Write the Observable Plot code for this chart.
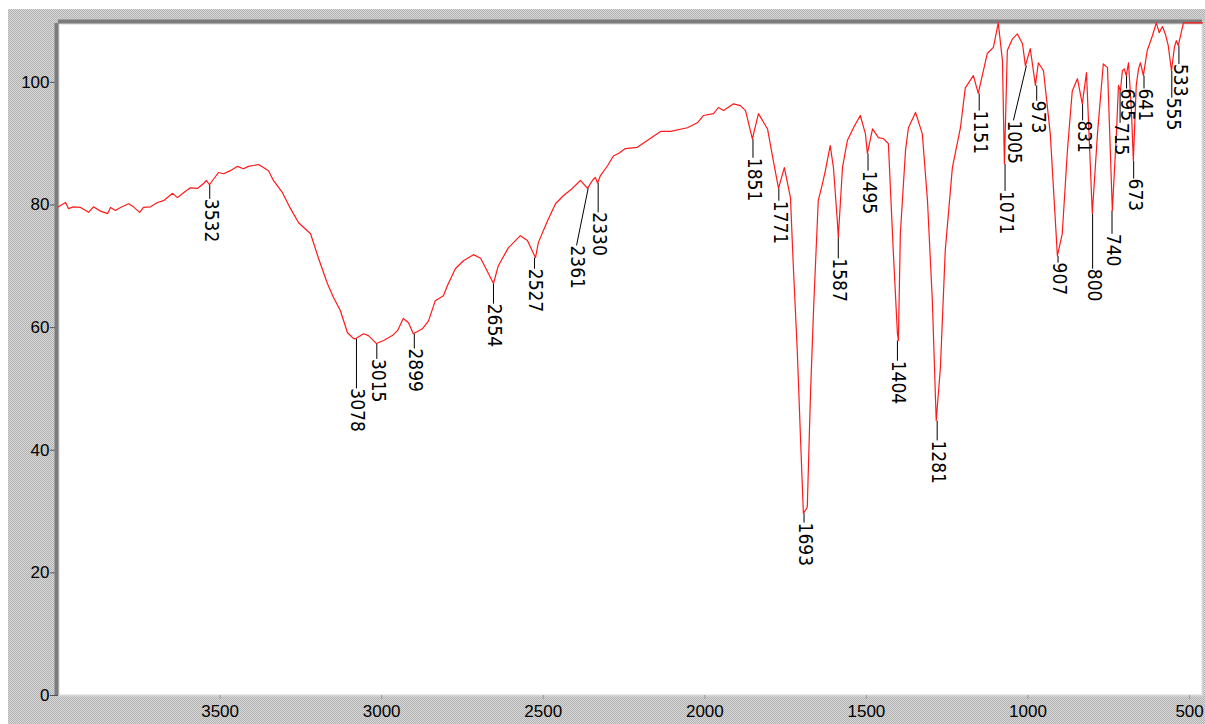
<!DOCTYPE html>
<html><head><meta charset="utf-8">
<script src="https://cdn.jsdelivr.net/npm/d3@7"></script>
<script src="https://cdn.jsdelivr.net/npm/@observablehq/plot@0.6"></script>
<style>
html,body{margin:0;padding:0;background:#fff;}
#wrap{position:relative;width:1205px;height:724px;overflow:hidden;}
#bg{position:absolute;left:8px;top:9px;right:0;bottom:0;background-color:#c4c4c4;
background-image:repeating-conic-gradient(#b2b2b2 0 25%, #d8d8d8 0 50%);background-size:2px 2px;}
#chart{position:absolute;left:0;top:0;}
</style></head>
<body><div id="wrap"><div id="bg"></div><div id="chart"></div></div>
<script>
const xTicks = [3500, 3000, 2500, 2000, 1500, 1000, 500];
const yTicks = [0, 20, 40, 60, 80, 100];

const spectrumWn = [4000,3978,3969,3954,3932,3907,3892,3870,3848,3839,3824,3808,3783,3768,3749,3737,3715,3694,3675,3647,3632,3613,3592,3570,3551,3542,3533,3505,3489,3468,3446,3428,3412,3381,3366,3350,3335,3307,3282,3257,3220,3196,3168,3149,3128,3106,3087,3081,3056,3041,3016,2994,2967,2951,2933,2917,2902,2874,2855,2834,2809,2796,2772,2747,2716,2694,2679,2654,2639,2608,2571,2549,2524,2515,2487,2462,2438,2410,2385,2363,2348,2339,2332,2323,2301,2283,2267,2246,2209,2178,2137,2106,2054,2023,2004,1973,1958,1942,1911,1890,1874,1853,1834,1806,1788,1772,1754,1735,1726,1714,1704,1695,1683,1673,1664,1658,1649,1636,1627,1612,1602,1590,1587,1574,1559,1540,1519,1503,1497,1481,1463,1447,1432,1417,1404,1401,1395,1379,1370,1348,1327,1311,1296,1284,1271,1256,1234,1209,1194,1169,1154,1126,1107,1092,1079,1073,1064,1048,1033,1017,1008,993,977,968,952,931,909,894,878,863,847,832,819,801,785,767,754,739,726,720,714,708,702,696,689,680,674,665,658,652,643,631,615,603,594,584,575,566,556,547,541,535,519,460];
const spectrumT = [79.7,80.4,79.4,79.7,79.6,78.8,79.7,79.0,78.6,79.6,79.1,79.6,80.2,79.7,78.8,79.6,79.7,80.4,80.7,81.9,81.2,82.0,82.8,82.7,83.5,84.0,83.3,85.3,85.1,85.6,86.3,85.9,86.3,86.6,86.1,85.6,84.0,82.0,79.4,77.1,75.3,71.4,67.2,64.9,62.8,59.2,58.2,58.2,59.0,58.7,57.4,57.9,58.7,59.5,61.5,60.8,59.0,59.8,61.1,64.4,65.2,66.9,69.6,70.9,71.9,71.3,69.8,67.2,70.1,73.0,75.0,74.2,71.4,73.9,77.4,80.2,81.5,82.7,84.0,82.7,84.0,84.5,83.6,84.8,86.4,88.0,88.4,89.2,89.4,90.5,92.0,92.0,92.6,93.4,94.6,94.9,95.9,95.4,96.5,96.2,95.4,90.8,94.9,92.4,87.2,82.7,86.1,81.2,69.8,56.3,42.1,29.7,30.7,49.2,62.3,69.8,80.7,83.5,85.6,89.7,86.1,77.4,74.7,86.1,90.5,92.6,94.6,91.6,88.4,92.4,91.0,90.8,90.0,72.6,59.0,57.9,75.3,88.9,92.6,95.1,91.6,80.7,64.4,44.8,53.5,72.6,86.1,92.6,99.1,101.1,98.2,104.7,105.7,109.7,103.5,86.7,105.2,107.1,107.9,106.3,102.7,105.5,99.5,103.2,101.9,91.6,71.7,75.3,88.9,98.6,100.6,96.5,101.6,78.6,91.6,103.0,102.4,79.1,92.1,99.5,98.6,101.9,102.2,101.1,103.2,95.4,87.2,99.5,102.2,103.2,101.1,105.2,107.6,109.7,108.1,109.1,107.9,106.0,101.9,105.7,106.8,106.0,109.7,109.7];

const peakWn  = [3532,3078,3015,2899,2654,2527,2361,2330,1851,1771,1693,1587,1495,1404,1281,1151,1071,1005,973,907,831,800,740,715,695,673,641,555,533];
const peakT   = [83.3,58.2,57.4,59.0,67.2,71.4,82.7,83.6,90.8,82.7,29.7,74.7,88.4,57.9,44.8,98.2,86.7,102.7,99.5,71.7,96.5,78.6,79.1,98.6,101.1,87.2,101.1,101.9,106.0];
const labelWn = [3532,3078,3015,2899,2654,2527,2397,2330,1851,1771,1693,1587,1495,1404,1281,1151,1071,1045,973,907,831,800,740,715,695,673,641,555,533];
const labelT  = [81.0,50.1,54.9,56.6,63.9,69.6,73.4,78.8,87.7,80.7,28.2,71.3,85.6,54.6,41.6,95.4,82.3,93.8,97.0,70.6,93.8,69.6,75.3,93.4,99.0,84.3,99.0,97.5,103.0];

const spectrum = spectrumWn.map((wn, i) => ({wn, t: spectrumT[i]}));
const peaks = peakWn.map((wn, i) => ({wn, t: peakT[i], lx: labelWn[i], ly: labelT[i]}));

const fmt = d => String(d);
const chart = Plot.plot({
  width: 1205, height: 724,
  marginLeft: 58, marginRight: 3, marginTop: 23, marginBottom: 29,
  style: {background: "transparent", fontFamily: "'Liberation Sans', Arial, sans-serif", color: "black"},
  x: {domain: [4000, 460]},
  y: {domain: [0, 109.6]},
  marks: [
    Plot.frame({fill: "white", stroke: "#d6d6d6", strokeWidth: 2}),
    Plot.axisY({ticks: yTicks, tickSize: 8, tickPadding: 1, stroke: "#555", fill: "black", fontSize: 17, label: null, tickFormat: fmt}),
    Plot.axisX({ticks: xTicks, tickSize: 4, tickPadding: 5, stroke: "#999", fill: "black", fontSize: 17, label: null, tickFormat: fmt}),
    Plot.ruleX([4000], {stroke: "#7c7c7c", strokeWidth: 4, dx: -2}),
    Plot.ruleY([109.6], {stroke: "#7c7c7c", strokeWidth: 4, dy: -2}),
    Plot.link(peaks, {x1: "wn", y1: "t", x2: "lx", y2: "ly", stroke: "black", strokeWidth: 1}),
    Plot.line(spectrum, {x: "wn", y: "t", stroke: "#ff1a1a", strokeWidth: 1.2}),
    Plot.text(peaks, {x: "lx", y: "ly", text: d => String(d.wn), rotate: 90, textAnchor: "start", lineAnchor: "middle",
      dx: 1, fontSize: 19, fill: "black", fontFamily: "'DejaVu Sans Condensed', 'Liberation Sans Narrow', sans-serif"})
  ]
});
document.getElementById("chart").appendChild(chart);
</script>
</body></html>
